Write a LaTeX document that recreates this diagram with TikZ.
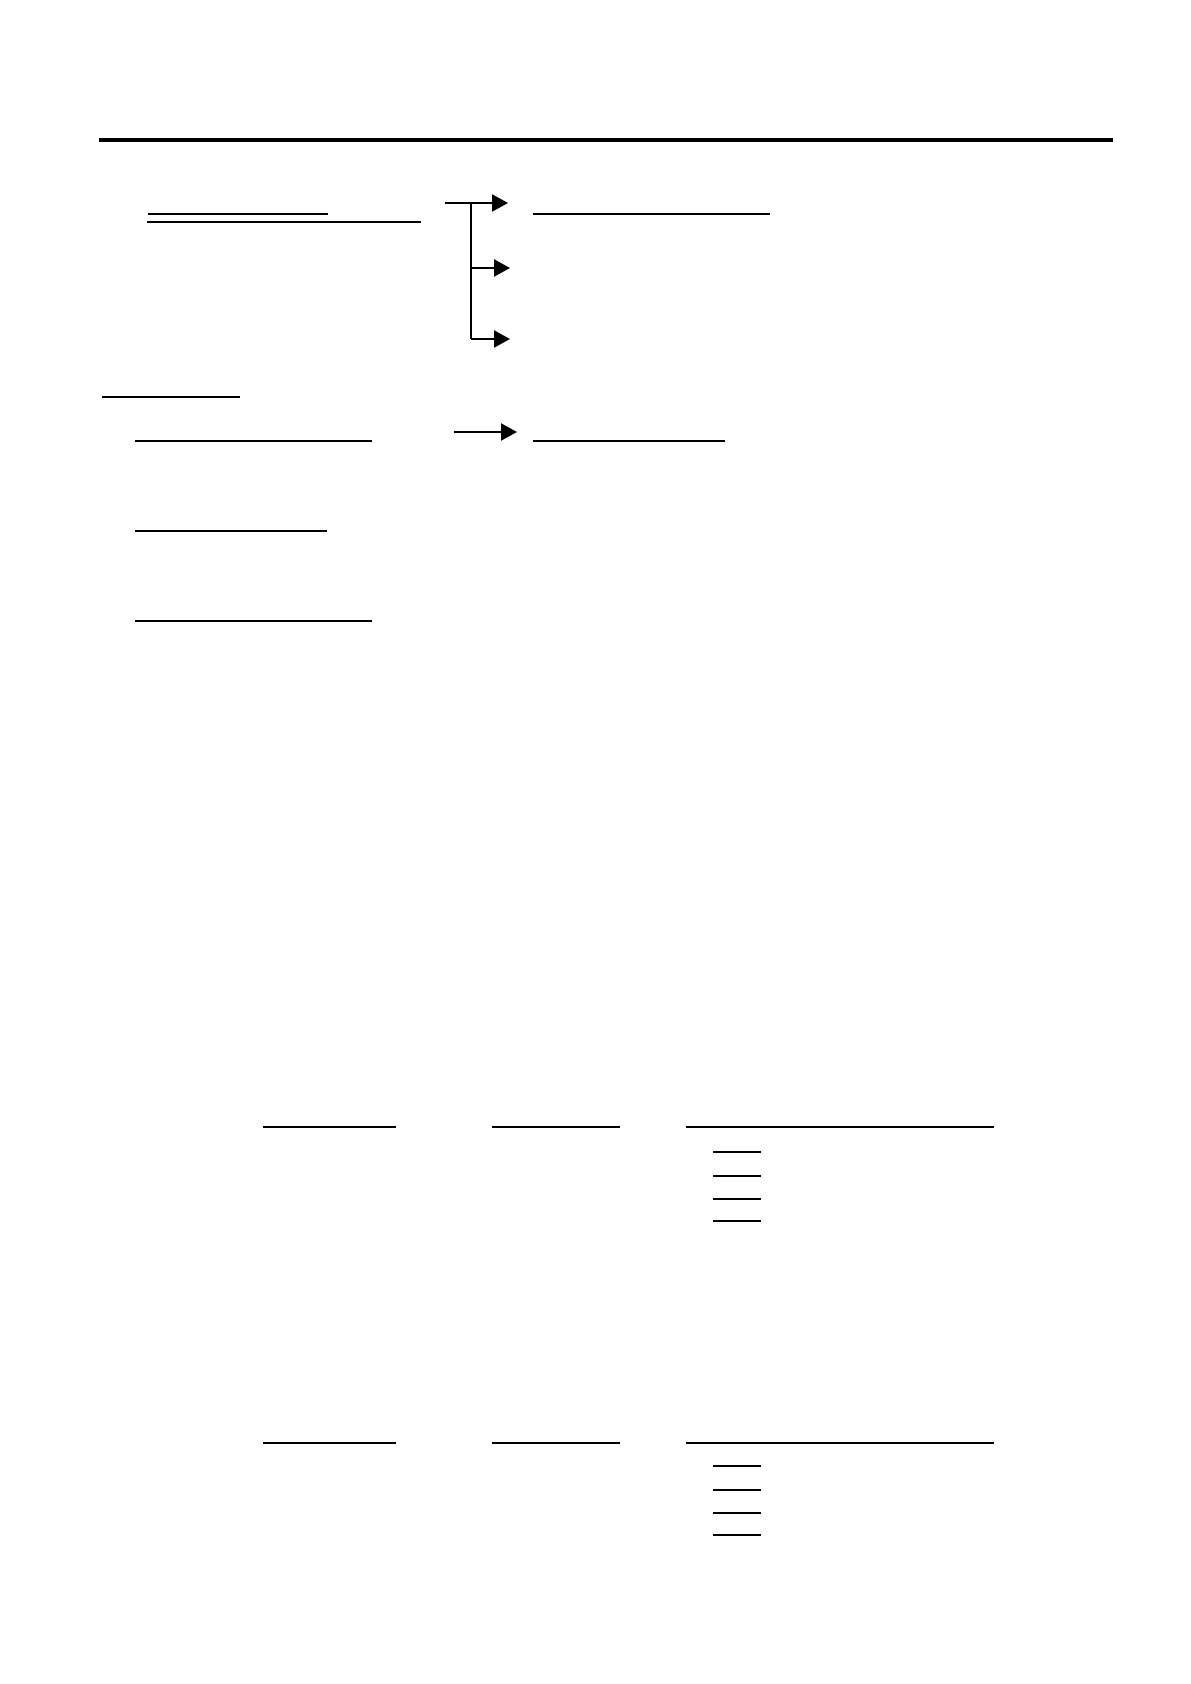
\documentclass[tikz,border=0pt]{standalone}
\usepackage{tikz}
\usetikzlibrary{arrows.meta}

\begin{document}
\begin{tikzpicture}[x=0.5pt, y=-0.5pt,
    uline/.style={line width=0.6pt},
    bline/.style={line width=1.1pt},
    arr/.style={line width=1.1pt, -{Triangle[length=8pt, width=8.5pt]}}]
  \useasboundingbox (0,0) rectangle (1190,1684);
  % head rule
  \draw[line width=2.2pt] (99,140) -- (1113,140);

  % title lines
  \draw[uline] (148,214) -- (328,214);
  \draw[uline] (147,222) -- (421,222);
  \draw[uline] (533,214) -- (770,214);

  % fork
  \coordinate (forkin) at (445,203);
  \coordinate (fork) at (471,203);
  \coordinate (tipa) at (508,203);
  \coordinate (tipb) at (510,268);
  \coordinate (tipc) at (510,339);
  \draw[bline] (fork) -- (fork |- tipc);
  \draw[arr] (forkin) -- (tipa);
  \draw[arr] (fork |- tipb) -- (tipb);
  \draw[arr] (fork |- tipc) -- (tipc);

  % section lines
  \draw[uline] (102,397) -- (240,397);
  \draw[uline] (135,441) -- (372,441);
  \coordinate (stepin) at (454,432);
  \coordinate (stepout) at (517,432);
  \draw[arr] (stepin) -- (stepout);
  \draw[uline] (533,441) -- (725,441);
  \draw[uline] (135,531) -- (327,531);
  \draw[bline] (135,621) -- (372,621);

  % first table
  \draw[uline] (263,1127) -- (396,1127);
  \draw[uline] (492,1127) -- (620,1127);
  \draw[uline] (686,1127) -- (994,1127);
  \foreach \y in {1152,1176,1199,1221}
    \draw[bline] (713,\y) -- (761,\y);

  % second table
  \draw[bline] (263,1443) -- (396,1443);
  \draw[bline] (492,1443) -- (620,1443);
  \draw[bline] (686,1443) -- (994,1443);
  \foreach \y in {1466,1490,1513,1535}
    \draw[bline] (713,\y) -- (761,\y);
\end{tikzpicture}
\end{document}
